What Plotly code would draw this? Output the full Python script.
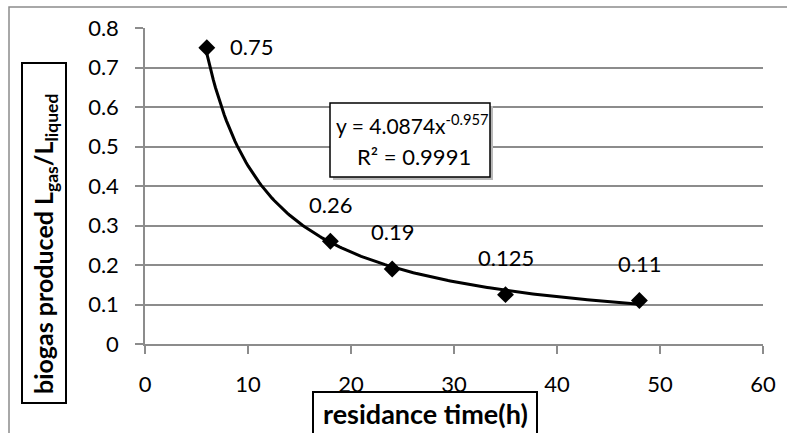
import numpy as np
import plotly.graph_objects as go

# Data
residence_time = [6, 18, 24, 35, 48]
biogas = [0.75, 0.26, 0.19, 0.125, 0.11]
labels = ["0.75", "0.26", "0.19", "0.125", "0.11"]
x_ticks = [0, 10, 20, 30, 40, 50, 60]
y_ticks = [0, 0.1, 0.2, 0.3, 0.4, 0.5, 0.6, 0.7, 0.8]

# Power trendline (Excel fit)
fit_a = 4.0874
fit_b = -0.957

W, H = 787, 433
L, R, T, B = 145, 24, 28, 89
PW = W - L - R
PH = H - T - B

def px(p):
    return (p - L) / PW

def py(p):
    return (H - B - p) / PH

FONT = "Lato"
GRID = "#8c8c8c"
FS = 22

xt = np.linspace(min(residence_time), max(residence_time), 200)
yt = fit_a * xt ** fit_b

fig = go.Figure()
fig.add_trace(go.Scatter(x=xt, y=yt, mode="lines",
                         line=dict(color="black", width=3), hoverinfo="skip"))
fig.add_trace(go.Scatter(x=residence_time, y=biogas, mode="markers",
                         marker=dict(symbol="diamond", size=13, color="black")))

annotations = []
for i, (xv, yv, t) in enumerate(zip(residence_time, biogas, labels)):
    if i == 0:
        annotations.append(dict(x=xv, y=yv, text=t, showarrow=False, xanchor="left",
                                yanchor="middle", xshift=21, yshift=1,
                                font=dict(family=FONT, size=FS, color="black")))
    else:
        annotations.append(dict(x=xv, y=yv, text=t, showarrow=False, xanchor="center",
                                yanchor="middle", yshift=37,
                                font=dict(family=FONT, size=FS, color="black")))

# trendline label text
annotations.append(dict(xref="paper", yref="paper", x=px(412), y=py(124),
                        text=f"y = {fit_a}x<sup>{fit_b}</sup>", showarrow=False,
                        xanchor="center", yanchor="middle",
                        font=dict(family=FONT, size=21, color="black")))
annotations.append(dict(xref="paper", yref="paper", x=px(414), y=py(156),
                        text="R² = 0.9991", showarrow=False,
                        xanchor="center", yanchor="middle",
                        font=dict(family=FONT, size=22, color="black")))
# axis titles
annotations.append(dict(xref="paper", yref="paper", x=px(45), y=py(244),
                        text="<b>biogas produced L<sub>gas</sub>/L<sub>liqued</sub></b>",
                        textangle=-90, showarrow=False, xanchor="center", yanchor="middle",
                        font=dict(family=FONT, size=25, color="black")))
annotations.append(dict(xref="paper", yref="paper", x=px(425), y=py(413),
                        text="<b>residance time(h)</b>", showarrow=False,
                        xanchor="center", yanchor="middle",
                        font=dict(family=FONT, size=27, color="black")))

shapes = [
    # outer chart border
    dict(type="rect", xref="paper", yref="paper", x0=px(9), x1=px(800), y0=py(7), y1=py(440),
         line=dict(color="#8c8c8c", width=1.5), layer="below"),
    # trendline label shadow and box
    dict(type="rect", xref="paper", yref="paper", x0=px(333), x1=px(493), y0=py(106), y1=py(180),
         line=dict(width=0), fillcolor="#b8b8b8", layer="above"),
    dict(type="rect", xref="paper", yref="paper", x0=px(330), x1=px(490), y0=py(103), y1=py(177),
         line=dict(color="black", width=1.5), fillcolor="white", layer="above"),
    # y title box
    dict(type="rect", xref="paper", yref="paper", x0=px(22), x1=px(66), y0=py(63), y1=py(403),
         line=dict(color="black", width=2), fillcolor="white"),
    # x title box
    dict(type="rect", xref="paper", yref="paper", x0=px(313), x1=px(537), y0=py(392), y1=py(445),
         line=dict(color="black", width=2), fillcolor="white"),
]

fig.update_layout(
    width=W, height=H,
    margin=dict(l=L, r=R, t=T, b=B),
    paper_bgcolor="white", plot_bgcolor="white",
    showlegend=False,
    annotations=annotations,
    shapes=shapes,
    font=dict(family=FONT, size=FS, color="black"),
)
fig.update_xaxes(range=[0, 60], tickvals=x_ticks, ticktext=[str(v) for v in x_ticks],
                 showgrid=False, zeroline=False, showline=True, linecolor=GRID, linewidth=1.5,
                 ticks="outside", ticklen=8, tickcolor=GRID, tickwidth=1.5,
                 ticklabelstandoff=12, tickfont=dict(family=FONT, size=FS, color="black"))
fig.update_yaxes(range=[0, 0.8], tickvals=y_ticks, ticktext=["0"] + [f"{v:.1f}" for v in y_ticks[1:]],
                 showgrid=True, gridcolor=GRID, gridwidth=1.5, zeroline=False,
                 showline=True, linecolor=GRID, linewidth=1.5,
                 ticks="outside", ticklen=8, tickcolor=GRID, tickwidth=1.5,
                 ticklabelstandoff=12, tickfont=dict(family=FONT, size=FS, color="black"))

fig.write_html("out.html")
